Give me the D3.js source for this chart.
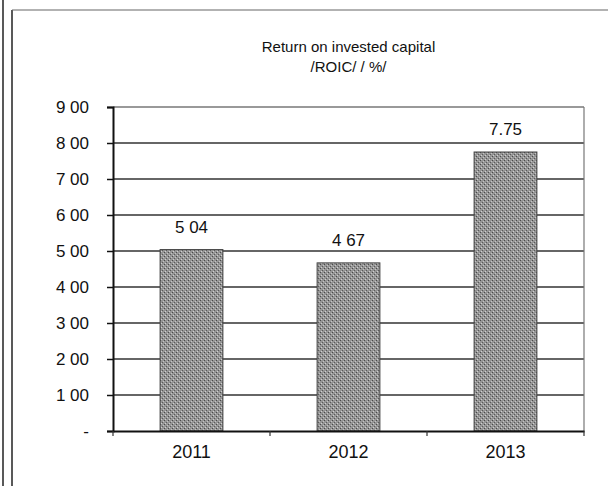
<!DOCTYPE html>
<html><head><meta charset="utf-8">
<script src="https://cdn.jsdelivr.net/npm/d3@7"></script>
<style>body{margin:0;background:#fff}svg{display:block}text{font-family:"Liberation Sans",Arial,sans-serif;fill:#111}</style>
</head><body><svg id="c" width="608" height="486"></svg>
<script>
const titleLines = ["Return on invested capital", "/ROIC/ / %/"];
const categories = ["2011", "2012", "2013"];
const values = [5.04, 4.67, 7.75];
const valueLabels = ["5 04", "4 67", "7.75"];
const tickValues = [0, 1, 2, 3, 4, 5, 6, 7, 8, 9];
const tickLabels = ["-", "1 00", "2 00", "3 00", "4 00", "5 00", "6 00", "7 00", "8 00", "9 00"];

const svg = d3.select("#c");
const m = {left: 113, right: 584, top: 107, bottom: 431};
const x = d3.scaleBand().domain(categories).range([m.left, m.right]).paddingInner(0.6).paddingOuter(0.3);
const y = d3.scaleLinear().domain([0, 9]).range([m.bottom, m.top]);

// outer frame
svg.append("line").attr("x1", 3).attr("x2", 3).attr("y1", 0).attr("y2", 486).attr("stroke", "#222").attr("stroke-width", 1.5);
svg.append("line").attr("x1", 12).attr("x2", 12).attr("y1", 10).attr("y2", 486).attr("stroke", "#222").attr("stroke-width", 1.5);
svg.append("line").attr("x1", 12).attr("x2", 608).attr("y1", 10).attr("y2", 10).attr("stroke", "#666").attr("stroke-width", 1.2);

// title
const t = svg.append("text").attr("text-anchor", "middle").style("font-size", "15px");
titleLines.forEach((l, i) => t.append("tspan").attr("x", (m.left + m.right) / 2).attr("y", 52 + i * 20).text(l));

// gridlines
svg.append("g").selectAll("line").data(tickValues.filter(d => d > 0)).join("line")
  .attr("x1", m.left).attr("x2", m.right).attr("y1", d => y(d)).attr("y2", d => y(d))
  .attr("stroke", d => d === 9 ? "#777" : "#333").attr("stroke-width", 1.4);
// right border
svg.append("line").attr("x1", m.right).attr("x2", m.right).attr("y1", m.top).attr("y2", m.bottom).attr("stroke", "#777").attr("stroke-width", 1.2);

// bar texture
const defs = svg.append("defs");
const pat = defs.append("pattern").attr("id", "tex").attr("width", 4).attr("height", 4).attr("patternUnits", "userSpaceOnUse");
pat.append("rect").attr("width", 4).attr("height", 4).attr("fill", "#959595");
pat.append("rect").attr("x", 0).attr("y", 0).attr("width", 1).attr("height", 1).attr("fill", "#4a4a4a");
pat.append("rect").attr("x", 2).attr("y", 2).attr("width", 1).attr("height", 1).attr("fill", "#5a5a5a");
pat.append("rect").attr("x", 1).attr("y", 3).attr("width", 1).attr("height", 1).attr("fill", "#d0d0d0");
pat.append("rect").attr("x", 3).attr("y", 1).attr("width", 1).attr("height", 1).attr("fill", "#c4c4c4");

svg.append("g").selectAll("rect").data(values).join("rect")
  .attr("x", (d, i) => x(categories[i])).attr("width", x.bandwidth())
  .attr("y", d => y(d)).attr("height", d => y(0) - y(d))
  .attr("fill", "url(#tex)").attr("stroke", "#444").attr("stroke-width", 1);

// value labels
svg.append("g").selectAll("text").data(values).join("text")
  .attr("x", (d, i) => x(categories[i]) + x.bandwidth() / 2)
  .attr("y", d => y(d) - 17).attr("text-anchor", "middle").style("font-size", "17px")
  .text((d, i) => valueLabels[i]);

// y axis
const ya = d3.axisLeft(y).tickValues(tickValues).tickFormat((d, i) => tickLabels[i]).tickSize(6).tickPadding(18);
const gy = svg.append("g").attr("transform", `translate(${m.left},0)`).call(ya);
gy.select(".domain").attr("stroke", "#111").attr("stroke-width", 2);
gy.selectAll(".tick line").attr("stroke", "#111").attr("stroke-width", 1.5);
gy.selectAll(".tick text").style("font-size", "17px").attr("fill", "#111").style("font-family", "'Liberation Sans',Arial,sans-serif");

// x axis
const xa = d3.axisBottom(x).tickSize(0).tickPadding(14);
const gx = svg.append("g").attr("transform", `translate(0,${m.bottom})`).call(xa);
gx.select(".domain").attr("stroke", "#111").attr("stroke-width", 2);
gx.selectAll(".tick text").style("font-size", "18px").attr("fill", "#111").style("font-family", "'Liberation Sans',Arial,sans-serif");
// category boundary ticks
const bounds = [m.left].concat(categories.map(c => x(c) + x.bandwidth() / 2 + x.step() / 2));
svg.append("g").selectAll("line").data(bounds).join("line")
  .attr("x1", d => d).attr("x2", d => d).attr("y1", m.bottom).attr("y2", m.bottom + 5)
  .attr("stroke", "#333").attr("stroke-width", 1.2);
</script></body></html>
